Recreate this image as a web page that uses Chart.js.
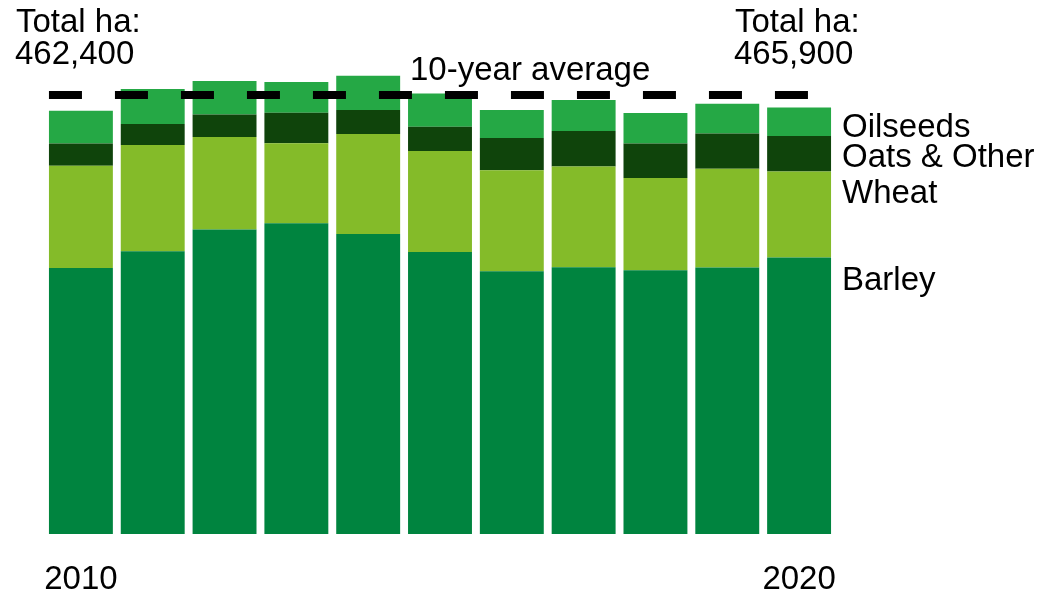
<!DOCTYPE html>
<html>
<head>
<meta charset="utf-8">
<script src="https://cdn.jsdelivr.net/npm/chart.js@4/dist/chart.umd.min.js"></script>
<style>
  html, body { margin: 0; padding: 0; background: #fff; }
  #wrap { width: 1038px; height: 594px; }
</style>
</head>
<body>
<div id="wrap"><canvas id="cropChart" width="1038" height="594"></canvas></div>
<script>
// hectares by crop
const years = ['2010', '2011', '2012', '2013', '2014', '2015', '2016', '2017', '2018', '2019', '2020'];
const barley   = [290500, 309000, 332600, 339600, 327600, 308200, 287100, 291500, 288200, 291100, 302000];
const wheat    = [111800, 115900, 101000,  87400, 109300, 110100, 110400, 110000, 100600, 107900,  94000];
const oats     = [ 24400,  23000,  24700,  33100,  26200,  26600,  35000,  38700,  37800,  38600,  38900];
const oilseeds = [ 35700,  38300,  36500,  33600,  37500,  36400,  30600,  33900,  33200,  32500,  31000];
const tenYearAverage = 479500;
const yearTicks = ['2010', '2020'];
const totalLabels = ['462,400', '465,900'];

const FONT = '33px "Liberation Sans", Arial, sans-serif';

const annotations = {
    id: 'annotations',
    afterDraw(chart) {
        const ctx = chart.ctx;
        const x = chart.scales.x;
        ctx.save();
        ctx.font = FONT;
        ctx.fillStyle = '#000';
        ctx.textBaseline = 'alphabetic';

        // year labels under the first and last bar
        ctx.textAlign = 'center';
        yearTicks.forEach((yr) => {
            ctx.fillText(yr, x.getPixelForValue(years.indexOf(yr)), 589);
        });

        // totals top-left and top-right
        ctx.textAlign = 'left';
        ctx.fillText('Total ha:', 16, 32);
        ctx.fillText(totalLabels[0], 15, 64);
        ctx.fillText('Total ha:', 735, 32);
        ctx.fillText(totalLabels[1], 734, 64);

        ctx.fillText('10-year average', 410, 80);

        // series names on the right
        const lx = chart.chartArea.right + 7;
        ctx.fillText('Oilseeds', lx, 137);
        ctx.fillText('Oats & Other', lx, 167);
        ctx.fillText('Wheat', lx, 203);
        ctx.fillText('Barley', lx, 290);
        ctx.restore();
    }
};

const ctx = document.getElementById('cropChart').getContext('2d');
new Chart(ctx, {
    type: 'bar',
    data: {
        labels: years,
        datasets: [
            { label: 'Barley', data: barley, backgroundColor: '#00843f', order: 1 },
            { label: 'Wheat', data: wheat, backgroundColor: '#84bb29', order: 1 },
            { label: 'Oats & Other', data: oats, backgroundColor: '#0f440b', order: 1 },
            { label: 'Oilseeds', data: oilseeds, backgroundColor: '#25a845', order: 1 },
            {
                type: 'line',
                label: '10-year average',
                xAxisID: 'x2',
                // spans from left edge of the first bar to right edge of the last
                data: [{ x: -0.445, y: tenYearAverage }, { x: 10.445, y: tenYearAverage }],
                borderColor: '#000',
                borderWidth: 8,
                borderDash: [33, 33],
                borderCapStyle: 'butt',
                pointRadius: 0,
                fill: false,
                order: 0
            }
        ]
    },
    options: {
        responsive: false,
        animation: false,
        devicePixelRatio: 1,
        layout: { padding: { left: 45, right: 203, top: 58, bottom: 60 } },
        datasets: {
            bar: { categoryPercentage: 1, barPercentage: 0.89, borderWidth: 0, grouped: false }
        },
        plugins: { legend: { display: false }, tooltip: { enabled: false } },
        scales: {
            x: { stacked: true, display: false },
            x2: { type: 'linear', axis: 'x', min: -0.5, max: 10.5, offset: false, display: false },
            y: { stacked: true, display: false, min: 0, max: 520000 }
        }
    },
    plugins: [annotations]
});
</script>
</body>
</html>
